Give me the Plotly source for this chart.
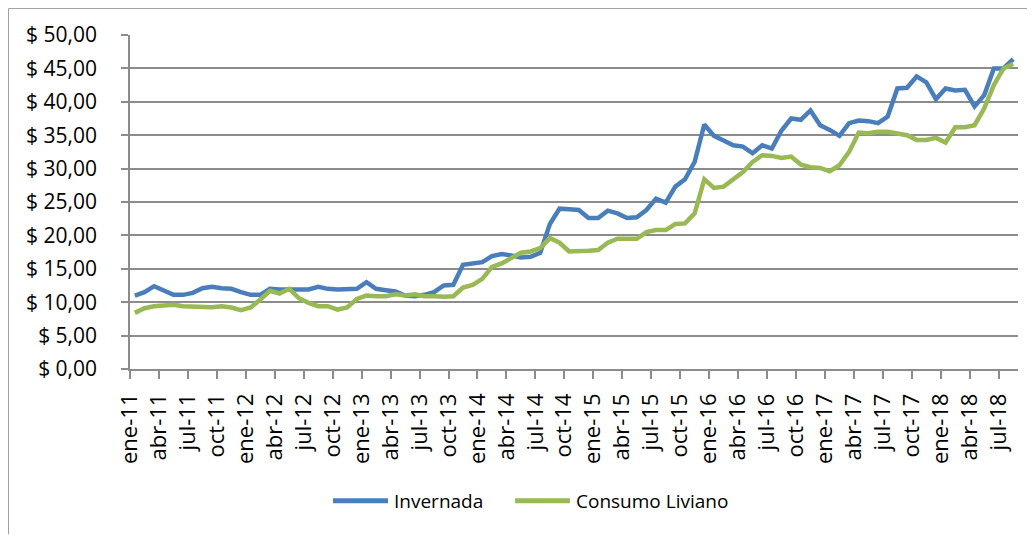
import numpy as np
import plotly.graph_objects as go

# Monthly series, ene-11 .. ago-18 (92 months)
invernada = [11.0, 11.5, 12.4, 11.7, 11.1, 11.1, 11.4, 12.1, 12.3, 12.1, 12.0, 11.5,
             11.1, 11.1, 12.0, 11.9, 11.9, 11.9, 11.9, 12.3, 12.0, 11.9, 11.9, 12.0,
             13.0, 12.0, 11.8, 11.6, 11.0, 10.9, 11.1, 11.5, 12.5, 12.6, 15.6, 15.8,
             16.0, 16.9, 17.2, 17.0, 16.7, 16.8, 17.4, 21.7, 24.0, 23.9, 23.8, 22.6,
             22.6, 23.7, 23.3, 22.6, 22.7, 23.8, 25.5, 24.9, 27.3, 28.4, 31.0, 36.6,
             34.9, 34.2, 33.5, 33.3, 32.3, 33.5, 33.0, 35.7, 37.5, 37.3, 38.7, 36.5,
             35.8, 34.9, 36.8, 37.2, 37.1, 36.8, 37.8, 42.0, 42.1, 43.8, 42.9, 40.4,
             42.0, 41.7, 41.8, 39.3, 41.0, 45.0, 45.0, 46.4]

consumo_liviano = [8.4, 9.1, 9.4, 9.5, 9.6, 9.4, 9.35, 9.2, 9.25, 9.4, 9.2, 8.8,
                   9.2, 10.4, 11.7, 11.3, 12.0, 10.6, 9.9, 9.4, 9.4, 8.9, 9.2, 10.5,
                   11.0, 10.9, 10.9, 11.2, 11.0, 11.2, 10.9, 10.9, 10.8, 10.9, 12.2, 12.6,
                   13.5, 15.3, 15.8, 16.6, 17.4, 17.6, 18.1, 19.6, 18.9, 17.6, 17.6, 17.7,
                   17.8, 18.9, 19.5, 19.5, 19.5, 20.5, 20.8, 20.8, 21.7, 21.8, 23.3, 28.4,
                   27.1, 27.3, 28.3, 29.5, 31.0, 32.0, 31.9, 31.6, 31.8, 30.6, 30.2, 30.1,
                   29.6, 30.5, 32.5, 35.4, 35.3, 35.5, 35.5, 35.3, 35.0, 34.3, 34.3, 34.6,
                   33.9, 36.2, 36.2, 36.5, 39.0, 42.5, 45.0, 45.7]

tick_labels = ["ene-11", "abr-11", "jul-11", "oct-11", "ene-12", "abr-12", "jul-12", "oct-12",
               "ene-13", "abr-13", "jul-13", "oct-13", "ene-14", "abr-14", "jul-14", "oct-14",
               "ene-15", "abr-15", "jul-15", "oct-15", "ene-16", "abr-16", "jul-16", "oct-16",
               "ene-17", "abr-17", "jul-17", "oct-17", "ene-18", "abr-18", "jul-18"]

y_ticks = [0, 5, 10, 15, 20, 25, 30, 35, 40, 45, 50]

series_names = ["Invernada", "Consumo Liviano"]

n = len(invernada)
# Excel date axis: points sit in the middle of each month slot, labels at slot edges
x = np.arange(n) + 0.5
tick_pos = np.arange(len(tick_labels)) * 3

FONT = "Open Sans"
BLUE = "#4A7EBB"
GREEN = "#98B954"
GRID = "#8C8C8C"

# figure geometry (page has an 8px body margin)
W, H = 1027, 527
L, R, T, B = 122, 17, 27, 165.5
PW, PH = W - L - R, H - T - B


def px(fx):
    return (fx - L) / PW


def py(fy):
    return (H - B - fy) / PH


fig = go.Figure()
fig.add_trace(go.Scatter(x=x, y=invernada, mode="lines", name=series_names[0],
                         line=dict(color=BLUE, width=4.5), showlegend=False))
fig.add_trace(go.Scatter(x=x, y=consumo_liviano, mode="lines", name=series_names[1],
                         line=dict(color=GREEN, width=4.5), showlegend=False))

fig.update_layout(
    width=W, height=H,
    margin=dict(l=L, r=R, t=T, b=B, autoexpand=False),
    paper_bgcolor="white", plot_bgcolor="white",
    font=dict(family=FONT, size=21, color="#000000"),
    showlegend=False,
    xaxis=dict(range=[0, n], tickmode="array", tickvals=tick_pos, ticktext=tick_labels,
               tickangle=-90, showgrid=False, zeroline=False,
               showline=True, linecolor=GRID, linewidth=1.5,
               ticks="outside", ticklen=8, tickcolor=GRID, tickwidth=1.5,
               ticklabelstandoff=6,
               tickfont=dict(family=FONT, size=22, color="#000000")),
    yaxis=dict(range=[0, 50], tickmode="array", tickvals=y_ticks,
               ticktext=["$ " + f"{v:.2f}".replace(".", ",") for v in y_ticks],
               showgrid=True, gridcolor=GRID, gridwidth=1.5, zeroline=False,
               showline=True, linecolor=GRID, linewidth=1.5,
               ticks="outside", ticklen=7, tickcolor=GRID, tickwidth=1.5,
               ticklabelstandoff=20,
               tickfont=dict(family=FONT, size=21, color="#000000")),
)

# chart area border (left and top edges visible in the reference)
fig.add_shape(type="line", xref="paper", yref="paper",
              x0=px(0.5), x1=px(0.5), y0=py(H), y1=py(0.5),
              line=dict(color="#A0A0A0", width=1))
fig.add_shape(type="line", xref="paper", yref="paper",
              x0=px(0.5), x1=px(W), y0=py(0.5), y1=py(0.5),
              line=dict(color="#A0A0A0", width=1))

# custom legend (long line samples like Excel)
legend_y = py(493.5)
legend_items = [(series_names[0], BLUE, 325, 380, 384),
                (series_names[1], GREEN, 507, 562, 566)]
for name, color, lx0, lx1, tx in legend_items:
    fig.add_shape(type="line", xref="paper", yref="paper",
                  x0=px(lx0), x1=px(lx1), y0=legend_y, y1=legend_y,
                  line=dict(color=color, width=5))
    fig.add_annotation(xref="paper", yref="paper", x=px(tx), y=legend_y,
                       text=name, showarrow=False, xanchor="left", yanchor="middle",
                       font=dict(family=FONT, size=19, color="#000000"))

fig.write_html("out.html")
